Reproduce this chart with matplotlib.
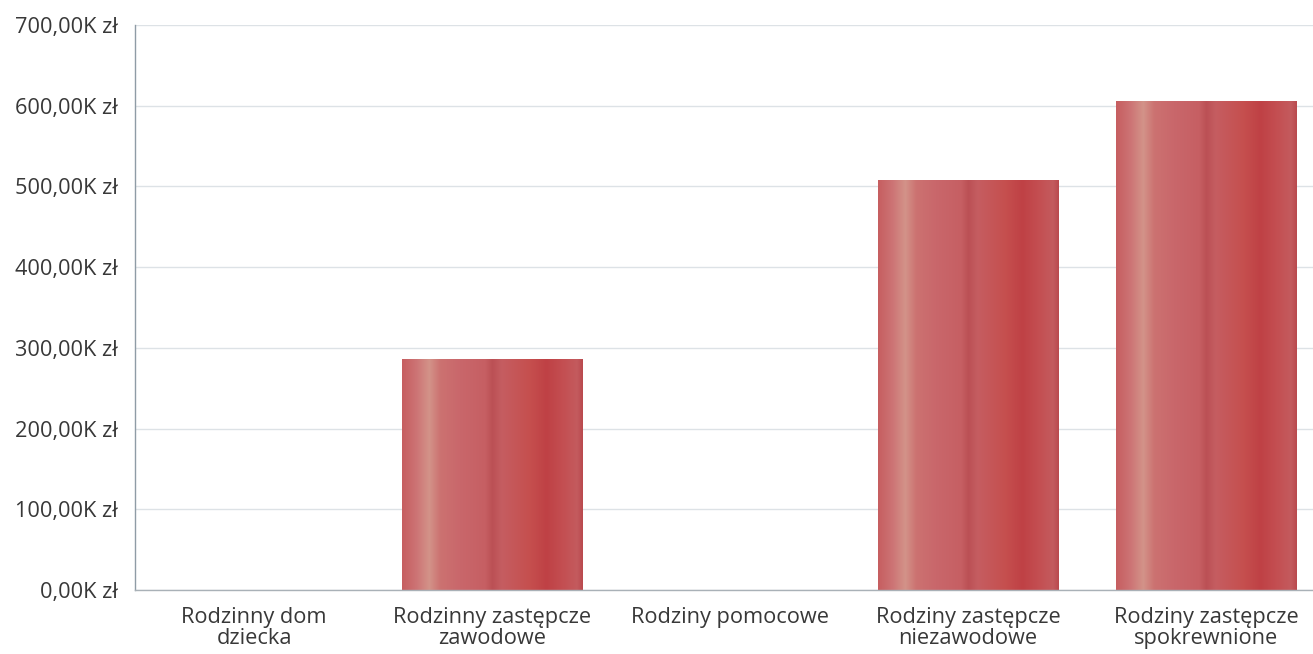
import matplotlib
matplotlib.use("Agg")
import matplotlib.pyplot as plt
import numpy as np
from matplotlib.colors import LinearSegmentedColormap
from matplotlib.ticker import FuncFormatter, MultipleLocator

plt.rcParams["font.family"] = ["Open Sans", "DejaVu Sans"]

categories = [
    "Rodzinny dom\ndziecka",
    "Rodzinny zastępcze\nzawodowe",
    "Rodziny pomocowe",
    "Rodziny zastępcze\nniezawodowe",
    "Rodziny zastępcze\nspokrewnione",
]
values = [0, 286000, 0, 508000, 606000]

# cylindrical red shading across each bar
stops = [
    (0.00, "#c65e60"), (0.08, "#cd7475"), (0.15, "#d39389"), (0.21, "#cc7271"),
    (0.32, "#c9676b"), (0.46, "#c65f63"), (0.50, "#bb5055"), (0.55, "#c55d61"),
    (0.70, "#c6504f"), (0.80, "#bf4145"), (0.90, "#c45053"), (0.97, "#c35b5e"),
    (1.00, "#ba4a4e"),
]
bar_cmap = LinearSegmentedColormap.from_list("bar", stops)

fig = plt.figure(figsize=(13.13, 6.54), dpi=100)
ax = fig.add_axes([135 / 1313, 64 / 654, 1178 / 1313, 565 / 654])

x = np.arange(len(categories))
width = 0.757
bars = ax.bar(x, values, width=width, color="none", edgecolor="none", zorder=2)
grad = np.linspace(0, 1, 256).reshape(1, -1)
for b in bars:
    if b.get_height() <= 0:
        continue
    im = ax.imshow(
        grad,
        cmap=bar_cmap,
        aspect="auto",
        extent=[b.get_x(), b.get_x() + b.get_width(), 0, b.get_height()],
        zorder=2,
    )
    im.set_clip_path(b)

ax.set_xlim(-0.5, -0.5 + 1178 / 238)
ax.set_ylim(0, 700000)
ax.yaxis.set_major_locator(MultipleLocator(100000))
ax.yaxis.set_major_formatter(
    FuncFormatter(lambda v, _: f"{v / 1000:.2f}K zł".replace(".", ","))
)
ax.set_xticks(x)
ax.set_xticklabels(categories)
ax.tick_params(axis="both", length=0, labelsize=15.7, labelcolor="#383838")
ax.tick_params(axis="y", pad=12)
ax.tick_params(axis="x", pad=12)
for lab in ax.get_xticklabels():
    lab.set_linespacing(1.02)

ax.grid(axis="y", color="#dde2e6", linewidth=1.0, zorder=0)
ax.set_axisbelow(True)
for side in ["top", "right"]:
    ax.spines[side].set_visible(False)
ax.spines["left"].set_color("#8f9ca6")
ax.spines["bottom"].set_color("#a9b1b7")
ax.spines["left"].set_linewidth(1.0)
ax.spines["bottom"].set_linewidth(1.0)

fig.savefig("out.png", dpi=100, facecolor="white")
